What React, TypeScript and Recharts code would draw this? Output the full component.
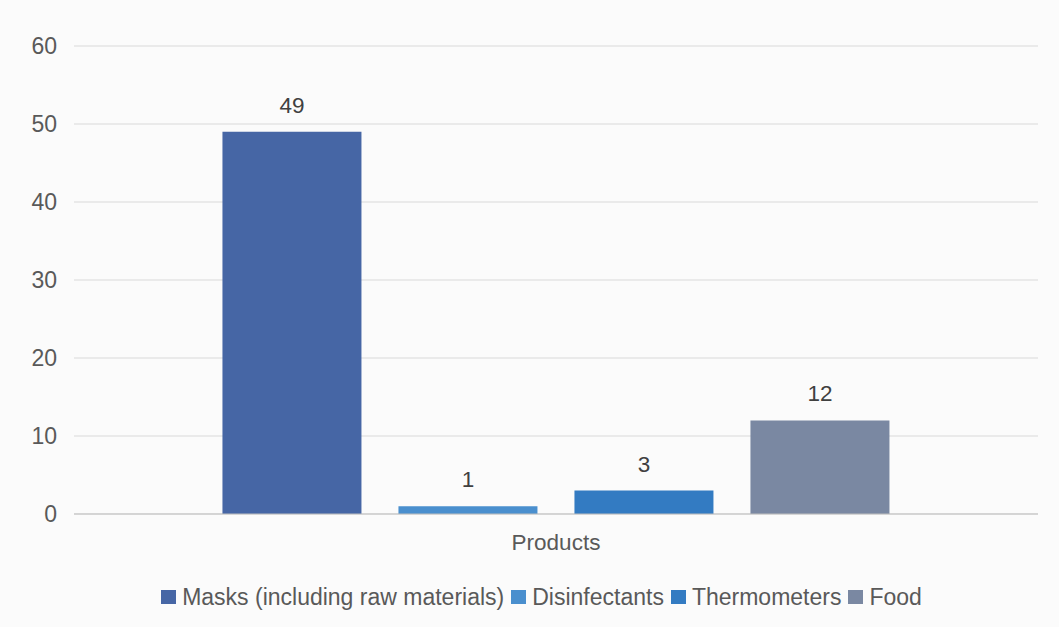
import { BarChart, Bar, XAxis, YAxis, CartesianGrid, Legend, LabelList } from 'recharts';

const category = 'Products';
const seriesNames = ['Masks (including raw materials)', 'Disinfectants', 'Thermometers', 'Food'];
const seriesValues = [49, 1, 3, 12];
const seriesColors = ['#4666a5', '#4a8fce', '#337bc2', '#7a88a2'];
const yTicks = [0, 10, 20, 30, 40, 50, 60];

const FONT = '"Liberation Sans", Arial, sans-serif';
const TEXT_SIZE = 22.5;

const row: Record<string, string | number> = { name: category };
seriesNames.forEach((s, i) => {
  row[s] = seriesValues[i];
});
const data = [row];

function LegendContent() {
  return (
    <div
      style={{
        display: 'flex',
        justifyContent: 'center',
        alignItems: 'center',
        fontFamily: FONT,
        fontSize: 23,
        lineHeight: '26px',
        color: '#595959',
        gap: 7,
        paddingLeft: 24,
      }}
    >
      {seriesNames.map((s, i) => (
        <span key={s} style={{ display: 'flex', alignItems: 'center' }}>
          <span
            style={{
              display: 'inline-block',
              width: 15,
              height: 14,
              background: seriesColors[i],
              marginRight: 6,
            }}
          />
          {s}
        </span>
      ))}
    </div>
  );
}

export default function App() {
  return (
    <div style={{ position: 'fixed', left: 0, top: 0, width: 1059, height: 627, background: '#fbfbfb' }}>
      <BarChart
        width={1059}
        height={627}
        data={data}
        margin={{ top: 46, right: 21, left: 0, bottom: 42 }}
        barCategoryGap="15.4%"
        barGap={37}
      >
        <CartesianGrid vertical={false} stroke="#d9d9d9" />
        <XAxis
          dataKey="name"
          height={45}
          tickSize={0}
          tickMargin={20}
          axisLine={{ stroke: '#bfbfbf' }}
          tick={{ fill: '#595959', fontSize: TEXT_SIZE, fontFamily: FONT }}
        />
        <YAxis
          width={74}
          domain={[0, 60]}
          ticks={yTicks}
          tickSize={0}
          tickMargin={17}
          axisLine={false}
          tick={{ fill: '#595959', fontSize: 23, fontFamily: FONT }}
        />
        <Legend content={<LegendContent />} wrapperStyle={{ top: 584, left: 0, width: 1059 }} />
        {seriesNames.map((s, i) => (
          <Bar key={s} dataKey={s} fill={seriesColors[i]} isAnimationActive={false}>
            <LabelList
              dataKey={s}
              position="top"
              offset={19}
              fill="#404040"
              fontSize={TEXT_SIZE}
              fontFamily={FONT}
            />
          </Bar>
        ))}
      </BarChart>
    </div>
  );
}
